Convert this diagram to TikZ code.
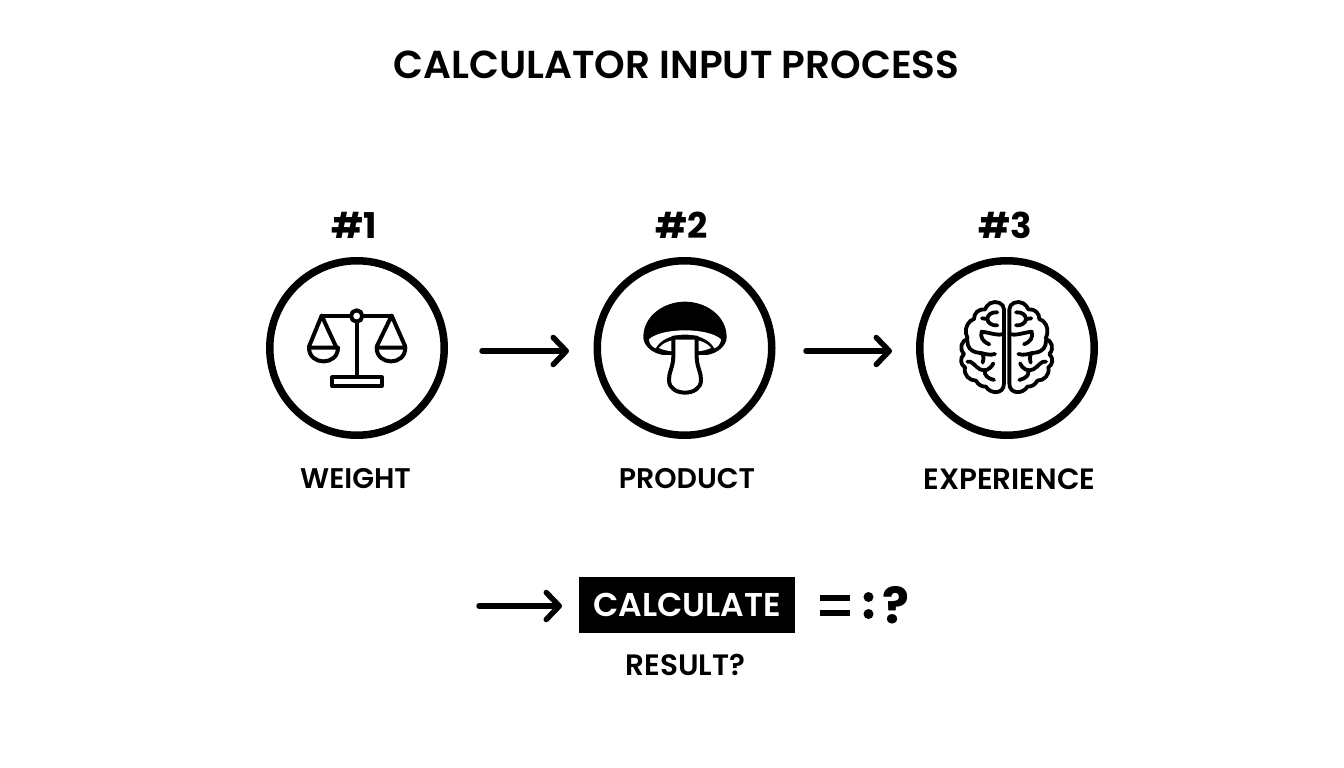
\documentclass[tikz,border=0pt]{standalone}
\usepackage{fontspec}
\setmainfont{Poppins SemiBold}
\newfontfamily\heavy{Poppins Bold}
\usetikzlibrary{arrows.meta}
\tikzset{
 ring/.style={circle,draw=black,line width=7.5pt,minimum size=174.5pt,inner sep=0pt},
 lab/.style={font=\fontsize{28.4}{30}\selectfont,inner sep=0pt,anchor=center},
 num/.style={font=\heavy\fontsize{35.5}{38}\selectfont,inner sep=0pt,anchor=center},
 flow/.style={line width=5.5pt,line cap=round,-{Straight Barb[length=13pt,width=27pt,line width=5.5pt,round]}},
 ico/.style={line width=4pt,line join=round,line cap=round},
 brainl/.style={line width=3.8pt,line join=round,line cap=round}
}
\def\hemi{%
 \draw[brainl] (282,178) .. controls (282,160) and (258,150) .. (240,160)
  .. controls (232,165) and (228,172) .. (225,178) .. controls (205,176) and (192,190) .. (192,207)
  .. controls (175,212) and (165,232) .. (168,250) .. controls (170,258) and (172,262) .. (173,266)
  .. controls (155,272) and (146,295) .. (162,312) .. controls (148,325) and (152,345) .. (165,352)
  .. controls (160,375) and (178,392) .. (198,392) .. controls (205,405) and (215,410) .. (228,410)
  .. controls (240,432) and (282,435) .. (282,400) -- cycle;
 \draw[brainl] (262,187) .. controls (245,185) and (232,195) .. (232,207) .. controls (232,220) and (250,228) .. (262,226);
 \draw[brainl] (232,207) -- (216,205);
 \draw[brainl] (282,252) .. controls (262,258) and (250,250) .. (215,245) .. controls (210,262) and (218,275) .. (238,283);
 \draw[brainl] (172,272) .. controls (172,290) and (180,305) .. (205,308) .. controls (220,310) and (240,318) .. (255,312);
 \draw[brainl] (215,308) .. controls (222,320) and (222,330) .. (218,338);
 \draw[brainl] (172,335) .. controls (185,330) and (195,350) .. (210,358) .. controls (225,365) and (240,360) .. (250,340);
 \draw[brainl] (225,362) .. controls (222,375) and (232,385) .. (252,390);
}
\begin{document}
\begin{tikzpicture}[x=1pt,y=-1pt]
\useasboundingbox (0,0) rectangle (1344,768);
\fill[white] (0,0) rectangle (1344,768);
\node[font=\fontsize{39}{42}\selectfont,inner sep=0pt] (title) at (676.5,65) {CALCULATOR INPUT PROCESS};
\node[num] (n1) at (354,225) {\#1};
\node[num] (n2) at (682,225) {\#2};
\node[num] (n3) at (1005,225) {\#3};
\node[ring] (c1) at (357,348) {};
\node[ring] (c2) at (684.5,348) {};
\node[ring] (c3) at (1007,348) {};
\node[lab] (l1) at (355.5,479) {WEIGHT};
\node[lab] (l2) at (687,479) {PRODUCT};
\node[lab,font=\fontsize{29.4}{31}\selectfont] (l3) at (1009.5,479) {EXPERIENCE};
% scale
\begin{scope}[shift={(260,250)},x=0.3333pt,y=-0.3333pt]
 \draw[ico] (185,197) -- (395,197);
 \draw[ico] (290,215) -- (290,380);
 \draw[ico,fill=white] (290,198) circle (17);
 \draw[ico] (217,382) rectangle (365,408);
 \draw[ico] (147,290) -- (185,197) -- (228,290);
 \draw[ico] (147,293) -- (234,293) .. controls (234,348) and (147,348) .. (147,293);
 \draw[ico] (350,290) -- (395,197) -- (436,290);
 \draw[ico] (350,293) -- (436,293) .. controls (436,348) and (350,348) .. (350,293);
\end{scope}
% mushroom
\begin{scope}[shift={(585,250)},x=0.3333pt,y=-0.3333pt]
 \fill[black] (175,262) .. controls (175,195) and (240,155) .. (300,155) .. controls (360,155) and (425,195) .. (425,262)
  .. controls (425,285) and (400,310) .. (365,315) -- (235,315) .. controls (200,310) and (175,285) .. (175,262) -- cycle;
 \fill[white] (192,268) .. controls (230,232) and (370,232) .. (408,268)
  .. controls (408,280) and (398,292) .. (388,295) .. controls (360,240) and (240,240) .. (212,295) .. controls (202,292) and (192,280) .. (192,268) -- cycle;
 \fill[white] (222,294) .. controls (230,282) and (250,272) .. (268,270) -- (268,304) .. controls (250,304) and (235,300) .. (222,294) -- cycle;
 \fill[white] (378,294) .. controls (370,282) and (350,272) .. (332,270) -- (332,304) .. controls (350,304) and (365,300) .. (378,294) -- cycle;
 \draw[ico,fill=white] (265,263) -- (335,263) -- (335,320) .. controls (335,350) and (350,370) .. (348,392)
  .. controls (346,440) and (254,440) .. (252,392) .. controls (250,370) and (265,350) .. (265,320) -- cycle;
\end{scope}
% brain
\begin{scope}[shift={(910,250)},x=0.3333pt,y=-0.3333pt]
 \hemi
\end{scope}
\begin{scope}[shift={(1103.33,250)},x=-0.3333pt,y=-0.3333pt]
 \hemi
\end{scope}
% arrows
\coordinate (a1s) at (482,351); \coordinate (a1e) at (569,351);
\coordinate (a2s) at (806,351); \coordinate (a2e) at (892,351);
\coordinate (a3s) at (479,606); \coordinate (a3e) at (562,606);
\draw[flow] (a1s) -- (a1e);
\draw[flow] (a2s) -- (a2e);
\draw[flow] (a3s) -- (a3e);
\node[fill=black,text=white,minimum width=216pt,minimum height=56pt,inner sep=0pt,font=\fontsize{33}{35}\selectfont] (calc) at (687,605) {CALCULATE};
\node[font=\fontsize{29.5}{32}\selectfont,inner sep=0pt] (res) at (685.5,665) {RESULT?};
\fill[black] (820,595) rectangle (850,601);
\fill[black] (820,610) rectangle (850,616);
\fill[black] (868.5,597) circle (5) (868.5,614) circle (5);
\node[font=\heavy\fontsize{50}{52}\selectfont,inner sep=0pt] (q) at (895.5,605) {?};
\end{tikzpicture}
\end{document}
